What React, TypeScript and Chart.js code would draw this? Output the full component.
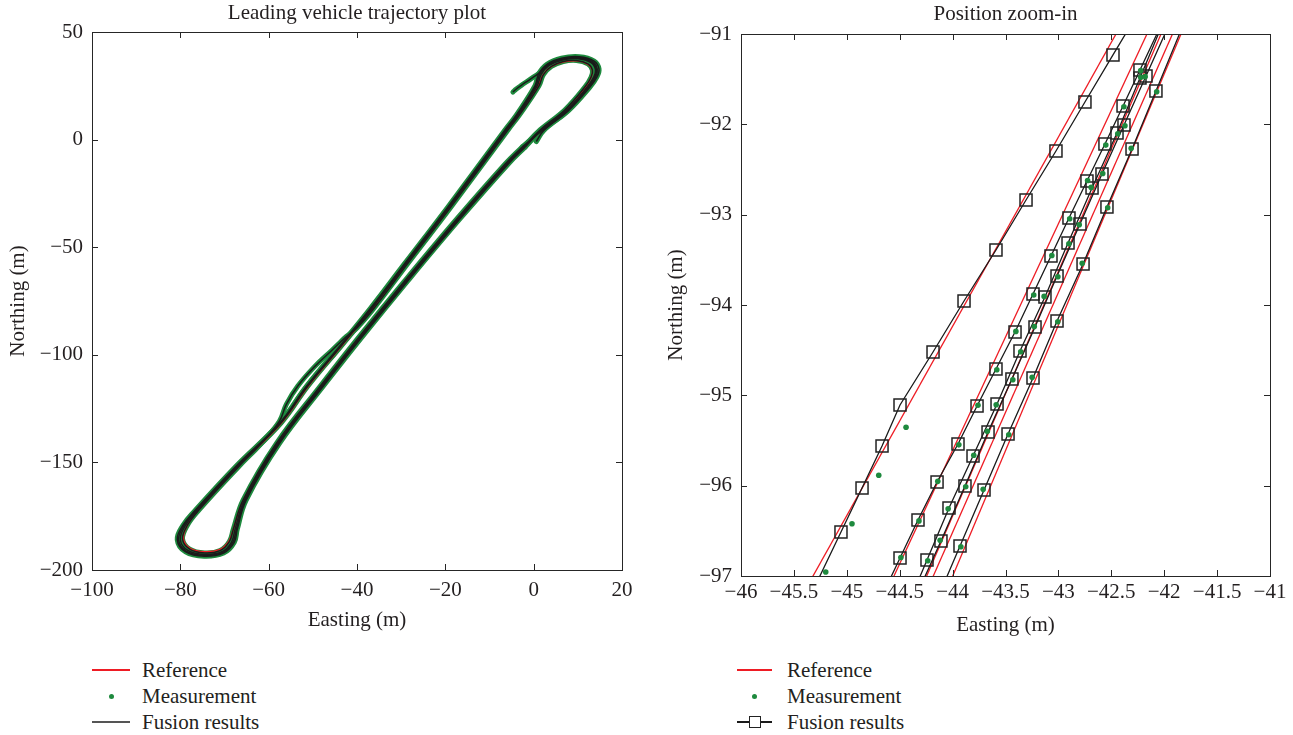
import React, { useEffect, useRef } from 'react';
import { Chart, registerables } from 'chart.js';

Chart.register(...registerables);

type Pt = [number, number];

const SERIF = "'Liberation Serif', 'Times New Roman', 'DejaVu Serif', serif";
const FS = 21;
const RED = '#ee1c24';
const GREEN = '#1e8a3e';
const BLACK = '#1a1a1a';
const AXIS = '#262626';
const TEXT = '#231f20';

// ---------------- Left panel: full trajectory ----------------
const leftTitle = 'Leading vehicle trajectory plot';
const leftX = { min: -100, max: 20, step: 20 };
const leftY = { min: -200, max: 50, step: 50 };

const lap1: Pt[] = [[0.6,-0.9],[2.3,4.3],[8.0,13.7],[12.7,24.3],[14.3,29.0],[14.8,32.8],[13.7,36.5],[10.3,38.5],[6.3,37.8],[3.0,35.0],[1.1,30.4],[0.3,25.0],[-3.9,11.5],[-6.5,4.5],[-19.5,-31.5],[-29.4,-58.1],[-37.0,-78.5],[-43.8,-95.7],[-51.4,-114.5],[-57.5,-131.7],[-67.5,-152.0],[-76.7,-172.4],[-79.4,-179.2],[-80.7,-185.9],[-78.8,-191.6],[-74.6,-193.6],[-70.2,-192.1],[-67.8,-187.2],[-67.1,-181.0],[-65.1,-167.5],[-57.5,-141.0],[-47.6,-114.5],[-39.2,-92.6],[-28.6,-65.9],[-17.1,-37.8],[-5.7,-11.2],[-1.9,-3.4]];
const lap2: Pt[] = [[-1.9,-3.4],[1.8,4.5],[7.5,13.8],[12.1,24.4],[13.6,29.0],[14.0,32.5],[13.0,35.8],[10.0,37.6],[6.5,37.0],[3.5,34.5],[1.7,30.3],[0.8,25.0],[-3.5,11.5],[-6.1,4.5],[-19.1,-31.5],[-29.0,-58.1],[-36.6,-78.5],[-43.5,-95.7],[-51.1,-114.5],[-57.2,-131.7],[-67.1,-152.0],[-76.2,-172.4],[-78.8,-179.2],[-80.0,-185.8],[-78.3,-190.9],[-74.5,-192.8],[-70.6,-191.5],[-68.4,-187.0],[-67.6,-181.0],[-65.5,-167.5],[-57.9,-141.0],[-48.0,-114.5],[-39.6,-92.6],[-29.0,-65.9],[-17.5,-37.8],[-6.1,-11.2],[-2.3,-3.4]];
const lap3: Pt[] = [[-2.3,-3.4],[1.5,4.6],[7.1,13.9],[11.6,24.4],[13.0,29.0],[13.3,32.3],[12.3,35.2],[9.7,36.8],[6.7,36.3],[4.0,34.0],[2.2,30.2],[1.2,25.0],[-3.2,11.5],[-5.8,4.5],[-18.8,-31.5],[-28.7,-58.1],[-36.2,-78.5],[-40.0,-87.5],[-42.4,-91.5],[-44.2,-95.0],[-45.6,-97.8],[-49.6,-105.5],[-53.4,-114.5],[-56.0,-123.0],[-57.6,-131.0],[-62.0,-141.9],[-66.8,-152.0],[-75.9,-172.4],[-78.4,-179.2],[-79.5,-185.6],[-77.9,-190.3],[-74.5,-192.1],[-71.0,-191.0],[-68.9,-186.8],[-68.0,-181.0],[-65.8,-167.5],[-58.2,-141.0],[-48.3,-114.5],[-39.9,-92.6],[-29.3,-65.9],[-17.8,-37.8],[-6.4,-11.2],[-2.6,-3.4]];
const lap4: Pt[] = [[-2.6,-3.4],[2.0,4.4],[7.8,13.7],[12.4,24.4],[14.0,29.0],[14.4,32.7],[13.4,36.2],[10.2,38.1],[6.4,37.4],[3.2,34.8],[1.4,30.4],[0.5,25.0],[-3.7,11.5],[-6.3,4.5],[-19.3,-31.5],[-29.2,-58.1],[-36.8,-78.5],[-43.6,-95.7],[-51.3,-114.5],[-57.4,-131.7],[-67.3,-152.0],[-76.5,-172.4],[-79.1,-179.2],[-80.4,-185.9],[-78.6,-191.3],[-74.5,-193.2],[-70.4,-191.8],[-68.1,-187.1],[-67.3,-181.0],[-65.3,-167.5],[-57.7,-141.0],[-47.8,-114.5],[-39.4,-92.6],[-28.8,-65.9],[-17.3,-37.8],[-5.9,-11.2],[-2.1,-3.4]];
const lap5: Pt[] = [[-2.1,-3.4],[1.9,4.5],[7.7,13.8],[12.3,24.4],[13.8,29.0],[14.2,32.6],[13.2,36.0],[10.1,37.9],[6.5,37.2],[3.4,34.7],[1.3,31.0],[-0.8,28.0],[-2.8,25.2],[-4.0,23.4],[-4.7,22.1]];
const leftFusionLaps: Pt[][] = [lap1, lap2, lap3, lap4, lap5];
const leftMeasurementLaps: Pt[][] = [lap1, lap2, lap3, lap4, lap5];
const leftReference: Pt[] = [[-2.1,-3.4],[1.9,4.5],[7.5,13.8],[11.8,24.4],[13.0,29.0],[13.3,32.2],[12.3,35.0],[9.7,36.6],[6.6,36.0],[3.9,33.8],[2.1,30.1],[1.0,25.0],[-3.3,11.5],[-6.0,4.5],[-19.0,-31.5],[-28.9,-58.1],[-36.5,-78.5],[-43.4,-95.7],[-51.0,-114.5],[-57.1,-131.7],[-67.0,-152.0],[-76.0,-172.4],[-78.4,-179.2],[-79.3,-185.4],[-77.8,-189.9],[-74.5,-191.5],[-71.0,-190.4],[-69.0,-186.6],[-68.0,-181.0],[-65.7,-167.5],[-58.0,-141.0],[-48.1,-114.5],[-39.7,-92.6],[-29.1,-65.9],[-17.6,-37.8],[-6.2,-11.2],[-2.1,-3.4]];

// ---------------- Right panel: position zoom-in ----------------
const rightTitle = 'Position zoom-in';
const rightX = { min: -46, max: -41, step: 0.5 };
const rightY = { min: -97, max: -91, step: 1 };

const refA: Pt[] = [[-45.367,-97.1],[-42.408,-90.9]];
const ref1: Pt[] = [[-44.594,-97.1],[-42.123,-90.9]];
const ref2: Pt[] = [[-44.282,-97.1],[-41.993,-90.9]];
const ref3: Pt[] = [[-44.220,-97.1],[-41.884,-90.9]];
const ref4: Pt[] = [[-44.035,-97.1],[-41.805,-90.9]];
const rightReferences: Pt[][] = [refA, ref1, ref2, ref3, ref4];

const fusA: Pt[] = [[-42.213,-90.7],[-42.484,-91.232],[-42.749,-91.753],[-43.023,-92.295],[-43.306,-92.838],[-43.590,-93.391],[-43.892,-93.956],[-44.185,-94.520],[-44.497,-95.107],[-44.667,-95.561],[-44.856,-96.026],[-45.055,-96.513],[-45.336,-97.2]];
const fus1: Pt[] = [[-42.009,-90.85],[-42.229,-91.399],[-42.389,-91.797],[-42.560,-92.218],[-42.730,-92.627],[-42.900,-93.037],[-43.070,-93.458],[-43.240,-93.878],[-43.410,-94.299],[-43.590,-94.709],[-43.769,-95.118],[-43.949,-95.539],[-44.147,-95.960],[-44.327,-96.380],[-44.497,-96.801],[-44.659,-97.2]];
const fus2: Pt[] = [[-41.936,-90.85],[-42.172,-91.465],[-42.380,-92.007],[-42.588,-92.550],[-42.796,-93.103],[-43.013,-93.679],[-43.221,-94.244],[-43.439,-94.819],[-43.665,-95.406],[-43.883,-96.004],[-44.110,-96.613],[-44.336,-97.2]];
const fus3: Pt[] = [[-42.002,-90.85],[-42.229,-91.487],[-42.446,-92.096],[-42.682,-92.705],[-42.909,-93.314],[-43.127,-93.912],[-43.363,-94.509],[-43.580,-95.096],[-43.807,-95.672],[-44.034,-96.247],[-44.242,-96.823],[-44.378,-97.2]];
const fus4: Pt[] = [[-41.803,-90.85],[-42.078,-91.631],[-42.304,-92.273],[-42.541,-92.915],[-42.767,-93.546],[-43.013,-94.177],[-43.240,-94.808],[-43.476,-95.428],[-43.703,-96.048],[-43.930,-96.668],[-44.161,-97.3]];
const rightFusion: Pt[][] = [fusA, fus1, fus2, fus3, fus4];

const measA: Pt[] = [[-44.440,-95.354],[-44.698,-95.885],[-44.951,-96.421],[-45.199,-96.956]];
const meas1: Pt[] = [[-42.222,-91.405],[-42.381,-91.806],[-42.552,-92.230],[-42.724,-92.622],[-42.893,-93.046],[-43.062,-93.452],[-43.233,-93.889],[-43.402,-94.292],[-43.582,-94.717],[-43.760,-95.110],[-43.941,-95.548],[-44.140,-95.952],[-44.318,-96.390],[-44.489,-96.795]];
const meas2: Pt[] = [[-42.180,-91.472],[-42.371,-92.015],[-42.581,-92.544],[-42.803,-93.111],[-43.005,-93.688],[-43.228,-94.238],[-43.431,-94.828],[-43.672,-95.398],[-43.876,-96.012],[-44.118,-96.605]];
const meas3: Pt[] = [[-42.222,-91.478],[-42.439,-92.104],[-42.690,-92.698],[-42.901,-93.322],[-43.135,-93.905],[-43.356,-94.517],[-43.588,-95.104],[-43.800,-95.664],[-44.042,-96.255],[-44.235,-96.831]];
const meas4: Pt[] = [[-42.071,-91.640],[-42.312,-92.266],[-42.534,-92.923],[-42.775,-93.539],[-43.006,-94.186],[-43.248,-94.801],[-43.469,-95.437],[-43.711,-96.041],[-43.922,-96.676]];
const rightMeasurements: Pt[][] = [measA, meas1, meas2, meas3, meas4];

const legendLabels = ['Reference', 'Measurement', 'Fusion results'];

// ---------------- helpers ----------------
const toXY = (pts: Pt[]) => pts.map(([x, y]) => ({ x, y }));
const fmt = (v: number | string) => String(v).replace('-', '\u2212');

const boxPlugin = {
  id: 'matlabBox',
  afterDatasetsDraw(chart: any) {
    const { ctx, chartArea: a, scales } = chart;
    const L = 6;
    ctx.save();
    ctx.strokeStyle = AXIS;
    ctx.lineWidth = 1;
    ctx.beginPath();
    for (const t of scales.x.ticks) {
      const p = Math.round(scales.x.getPixelForValue(t.value)) + 0.5;
      ctx.moveTo(p, a.bottom); ctx.lineTo(p, a.bottom - L);
      ctx.moveTo(p, a.top); ctx.lineTo(p, a.top + L);
    }
    for (const t of scales.y.ticks) {
      const p = Math.round(scales.y.getPixelForValue(t.value)) + 0.5;
      ctx.moveTo(a.left, p); ctx.lineTo(a.left + L, p);
      ctx.moveTo(a.right, p); ctx.lineTo(a.right - L, p);
    }
    ctx.stroke();
    ctx.strokeRect(Math.round(a.left) + 0.5, Math.round(a.top) + 0.5, Math.round(a.right - a.left), Math.round(a.bottom - a.top));
    ctx.restore();
  },
};

interface PanelCfg {
  title: string;
  xr: { min: number; max: number; step: number };
  yr: { min: number; max: number; step: number };
  yAxisWidth: number;
  xAxisHeight: number;
  titlePad: { top: number; bottom: number };
  xTitlePadBottom: number;
  yTitlePadTop: number;
  xTickPad: number;
  padRight: number;
  datasets: any[];
}

function buildConfig(c: PanelCfg): any {
  const font = { family: SERIF, size: FS };
  return {
    type: 'scatter',
    data: { datasets: c.datasets },
    plugins: [boxPlugin],
    options: {
      animation: false,
      responsive: false,
      events: [],
      layout: { padding: { left: 0, right: c.padRight, top: 0, bottom: 0 } },
      plugins: {
        legend: { display: false },
        tooltip: { enabled: false },
        title: {
          display: true,
          text: c.title,
          fullSize: false,
          color: TEXT,
          font: { family: SERIF, size: FS, weight: 'normal' },
          padding: c.titlePad,
        },
      },
      scales: {
        x: {
          type: 'linear',
          min: c.xr.min,
          max: c.xr.max,
          grid: { display: false, drawTicks: false },
          border: { display: false },
          ticks: { stepSize: c.xr.step, callback: (v: number) => fmt(v), font, color: TEXT, padding: c.xTickPad, maxRotation: 0, autoSkip: false },
          title: { display: true, text: 'Easting (m)', font, color: TEXT, padding: { top: 0, bottom: c.xTitlePadBottom } },
          afterFit: (s: any) => { s.height = c.xAxisHeight; },
        },
        y: {
          type: 'linear',
          min: c.yr.min,
          max: c.yr.max,
          grid: { display: false, drawTicks: false },
          border: { display: false },
          ticks: { stepSize: c.yr.step, callback: (v: number) => fmt(v), font, color: TEXT, padding: 9, autoSkip: false },
          title: { display: true, text: 'Northing (m)', font, color: TEXT, padding: { top: c.yTitlePadTop, bottom: 0 } },
          afterFit: (s: any) => { s.width = c.yAxisWidth; },
        },
      },
    },
  };
}

function leftDatasets(): any[] {
  const ds: any[] = [];
  leftMeasurementLaps.forEach((lap, i) => ds.push({
    label: 'Measurement ' + (i + 1), data: toXY(lap), showLine: true, borderColor: GREEN, borderWidth: 5,
    pointRadius: 0, tension: 0.4, order: 3, borderCapStyle: 'round', borderJoinStyle: 'round',
  }));
  ds.push({ label: 'Reference', data: toXY(leftReference), showLine: true, borderColor: RED, borderWidth: 1.4, pointRadius: 0, tension: 0.4, order: 2 });
  leftFusionLaps.forEach((lap, i) => ds.push({
    label: 'Fusion ' + (i + 1), data: toXY(lap), showLine: true, borderColor: BLACK, borderWidth: 1.5,
    pointRadius: 0, tension: 0.4, order: 1,
  }));
  return ds;
}

function rightDatasets(): any[] {
  const ds: any[] = [];
  rightReferences.forEach((r, i) => ds.push({
    label: 'Reference ' + (i + 1), data: toXY(r), showLine: true, borderColor: RED, borderWidth: 1.3,
    pointRadius: 0, tension: 0, order: 3, clip: 0,
  }));
  rightFusion.forEach((f, i) => ds.push({
    label: 'Fusion ' + (i + 1), data: toXY(f), showLine: true, borderColor: BLACK, borderWidth: 1.3,
    pointStyle: 'rect', pointRadius: 8.5, pointBorderWidth: 1.5, pointBorderColor: '#222',
    pointBackgroundColor: 'rgba(0,0,0,0)', tension: 0, order: 2, clip: 0,
  }));
  rightMeasurements.forEach((m, i) => ds.push({
    label: 'Measurement ' + (i + 1), data: toXY(m), showLine: false, pointRadius: 2.8,
    pointBackgroundColor: GREEN, pointBorderWidth: 0, order: 1, clip: 0,
  }));
  return ds;
}

const textStyle: React.CSSProperties = {
  position: 'absolute', fontFamily: SERIF, fontSize: FS, lineHeight: '26px', color: TEXT, whiteSpace: 'nowrap',
};

function Legend({ lineX0, lineX1, textX, thick, square }: { lineX0: number; lineX1: number; textX: number; thick: number; square: boolean }) {
  const rows = [670, 696, 722];
  const mid = (lineX0 + lineX1) / 2;
  return (
    <>
      <div style={{ position: 'absolute', left: lineX0, top: rows[0] - thick / 2, width: lineX1 - lineX0, height: thick, background: RED }} />
      <div style={{ position: 'absolute', left: mid - 2.5, top: rows[1] - 2.5, width: 5, height: 5, borderRadius: '50%', background: GREEN }} />
      <div style={{ position: 'absolute', left: lineX0, top: rows[2] - thick / 2, width: lineX1 - lineX0, height: thick, background: square ? BLACK : '#555' }} />
      {square && (
        <div style={{ position: 'absolute', left: mid - 6, top: rows[2] - 6, width: 10, height: 10, border: '1.5px solid #222', background: '#fff' }} />
      )}
      {legendLabels.map((t, i) => (
        <div key={t} style={{ ...textStyle, left: textX, top: rows[i] - 13 }}>{t}</div>
      ))}
    </>
  );
}

export default function App() {
  const leftRef = useRef<HTMLCanvasElement | null>(null);
  const rightRef = useRef<HTMLCanvasElement | null>(null);

  useEffect(() => {
    const charts: Chart[] = [];
    if (leftRef.current) {
      charts.push(new Chart(leftRef.current, buildConfig({
        title: leftTitle, xr: leftX, yr: leftY, yAxisWidth: 92, xAxisHeight: 70,
        titlePad: { top: 1, bottom: 5.8 }, xTitlePadBottom: 7.4, yTitlePadTop: 5.4, xTickPad: 7.4, padRight: 23,
        datasets: leftDatasets(),
      })));
    }
    if (rightRef.current) {
      charts.push(new Chart(rightRef.current, buildConfig({
        title: rightTitle, xr: rightX, yr: rightY, yAxisWidth: 96, xAxisHeight: 64,
        titlePad: { top: 2, bottom: 6.8 }, xTitlePadBottom: 2.4, yTitlePadTop: 18.4, xTickPad: 3.4, padRight: 23,
        datasets: rightDatasets(),
      })));
    }
    return () => { charts.forEach((c) => c.destroy()); };
  }, []);

  return (
    <div style={{ position: 'absolute', left: 0, top: 0, width: 1293, height: 735, background: '#fff', overflow: 'hidden' }}>
      <canvas ref={leftRef} width={645} height={640} style={{ position: 'absolute', left: 0, top: 0, width: 645, height: 640 }} />
      <canvas ref={rightRef} width={648} height={640} style={{ position: 'absolute', left: 645, top: 0, width: 648, height: 640 }} />
      <Legend lineX0={92} lineX1={130} textX={142} thick={2} square={false} />
      <Legend lineX0={737} lineX1={772} textX={787} thick={1.3} square={true} />
    </div>
  );
}
